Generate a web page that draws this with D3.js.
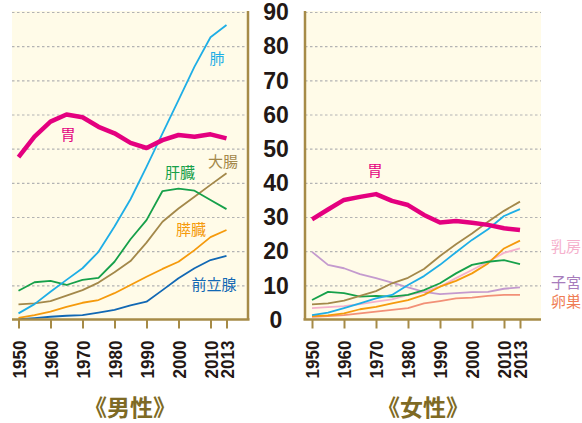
<!DOCTYPE html>
<html>
<head>
<meta charset="utf-8">
<script src="https://cdn.jsdelivr.net/npm/d3@7"></script>
<style>
  body { margin: 0; background: #fff; }
  svg text { font-family: "Liberation Sans", Arial, sans-serif; }
  .jp { font-family: "Noto Sans CJK JP", sans-serif; }
</style>
</head>
<body>
<svg id="chart" width="582" height="423"></svg>
<script>
// categories (x positions are equally spaced, 2013 follows 2010)
const years = [1950, 1955, 1960, 1965, 1970, 1975, 1980, 1985, 1990, 1995, 2000, 2005, 2010, 2013];
const tickYears = [1950, 1960, 1970, 1980, 1990, 2000, 2010, 2013];
const yTicks = [0, 10, 20, 30, 40, 50, 60, 70, 80, 90];

// male series
const maleStomach    = [47.5, 53.5, 57.9, 60.0, 59.2, 56.4, 54.5, 51.7, 50.2, 52.5, 54.0, 53.5, 54.2, 53.0];
const maleLung       = [1.8, 4.5, 8.1, 11.6, 15.0, 19.8, 27.2, 35.2, 44.7, 54.5, 64.2, 74.0, 82.6, 86.2];
const maleLiver      = [8.4, 10.9, 11.3, 10.1, 11.6, 12.2, 16.9, 23.5, 29.1, 37.6, 38.3, 37.7, 35.0, 32.3];
const maleColon      = [4.4, 4.7, 5.4, 7.0, 8.6, 10.8, 13.8, 17.1, 22.5, 28.6, 32.5, 35.9, 39.4, 42.8];
const malePancreas   = [0.5, 1.3, 2.3, 3.7, 4.9, 5.7, 7.7, 10.1, 12.5, 14.8, 16.9, 20.3, 24.1, 26.2];
const maleProstate   = [0.1, 0.4, 0.8, 1.1, 1.3, 2.0, 2.8, 4.1, 5.2, 8.6, 12.1, 15.0, 17.4, 18.6];

// female series
const femStomach     = [29.3, 32.2, 35.0, 35.9, 36.7, 34.7, 33.5, 30.6, 28.4, 28.8, 28.3, 27.7, 26.7, 26.2];
const femColon       = [4.4, 4.7, 5.5, 6.9, 8.3, 10.6, 12.2, 14.8, 18.6, 22.0, 25.2, 28.6, 31.8, 34.5];
const femLung        = [1.3, 2.0, 3.3, 4.7, 6.2, 7.2, 10.1, 12.7, 16.0, 19.7, 23.3, 26.4, 30.3, 32.3];
const femLiver       = [5.7, 8.1, 7.7, 6.7, 6.9, 6.7, 7.2, 8.6, 10.6, 13.5, 16.0, 16.9, 17.4, 16.2];
const femBreast      = [3.3, 3.6, 3.9, 4.5, 5.2, 5.9, 7.2, 8.1, 9.6, 12.1, 14.5, 16.9, 19.5, 20.8];
const femUterus      = [19.8, 16.0, 15.0, 13.3, 12.1, 10.8, 9.4, 8.1, 7.4, 7.7, 8.0, 8.1, 9.0, 9.4];
const femPancreas    = [1.0, 1.2, 1.8, 3.0, 3.7, 4.7, 5.7, 7.2, 9.6, 11.3, 13.5, 16.4, 20.8, 23.1];
const femOvary       = [0.8, 1.0, 1.3, 1.8, 2.3, 2.8, 3.3, 4.7, 5.4, 6.2, 6.4, 6.9, 7.2, 7.2];

const C = {
  stomach: "#e4007f", lung: "#1eaee6", liver: "#16a04a", colon: "#a3884a",
  pancreas: "#f59a0c", prostate: "#1168b4", breast: "#f5b0cc", uterus: "#c49ace",
  ovary: "#f29077", axis: "#a68b47", grid: "#b3b3b3", cream: "#fffbe8", title: "#7e6a24"
};

const svg = d3.select("#chart");
const y = d3.scaleLinear().domain([0, 90]).range([319.5, 12]);

const panels = [
  {
    x0: 12, x1: 248, px0: 18.5, px1: 226.5, border: 248, axis: [12, 249.5], title: "《男性》", titleX: 130,
    series: [
      { v: maleProstate, c: C.prostate, w: 1.8 },
      { v: malePancreas, c: C.pancreas, w: 1.8 },
      { v: maleColon, c: C.colon, w: 1.8 },
      { v: maleLiver, c: C.liver, w: 1.8 },
      { v: maleLung, c: C.lung, w: 1.8 },
      { v: maleStomach, c: C.stomach, w: 4.5 }
    ],
    labels: [
      { t: "肺", x: 217, y: 59, c: C.lung },
      { t: "胃", x: 68, y: 135, c: C.stomach },
      { t: "大腸", x: 223, y: 162, c: C.colon },
      { t: "肝臓", x: 180, y: 173, c: C.liver },
      { t: "膵臓", x: 191, y: 230, c: C.pancreas },
      { t: "前立腺", x: 214, y: 285, c: C.prostate }
    ]
  },
  {
    x0: 305, x1: 541, px0: 312, px1: 520, border: 305, axis: [303.5, 541], title: "《女性》", titleX: 423,
    series: [
      { v: femOvary, c: C.ovary, w: 1.8 },
      { v: femUterus, c: C.uterus, w: 1.8 },
      { v: femBreast, c: C.breast, w: 1.8 },
      { v: femPancreas, c: C.pancreas, w: 1.8 },
      { v: femLiver, c: C.liver, w: 1.8 },
      { v: femLung, c: C.lung, w: 1.8 },
      { v: femColon, c: C.colon, w: 1.8 },
      { v: femStomach, c: C.stomach, w: 4.5 }
    ],
    labels: [
      { t: "胃", x: 375, y: 171, c: C.stomach },
      { t: "乳房", x: 566, y: 247, c: C.breast },
      { t: "子宮", x: 566, y: 283, c: "#a77cbc" },
      { t: "卵巣", x: 566, y: 302, c: "#ef7d55" }
    ]
  }
];

panels.forEach(p => {
  const x = d3.scalePoint().domain(years).range([p.px0, p.px1]);
  const g = svg.append("g");

  // cream plot background
  g.append("rect")
    .attr("x", p.x0).attr("y", 11)
    .attr("width", p.x1 - p.x0).attr("height", y(0) - 11)
    .attr("fill", C.cream);

  // dashed gridlines
  g.append("g")
    .attr("transform", `translate(${p.x0},0)`)
    .call(d3.axisRight(y).tickValues(yTicks.slice(1)).tickSize(p.x1 - p.x0).tickFormat(""))
    .call(a => a.select(".domain").remove())
    .call(a => a.selectAll("line")
      .attr("stroke", C.grid).attr("stroke-width", 1.2).attr("stroke-dasharray", "2.5,2.5"));

  // data lines
  const line = d3.line().x((d, i) => x(years[i])).y(d => y(d));
  p.series.forEach(s => {
    g.append("path").datum(s.v)
      .attr("d", line)
      .attr("fill", "none")
      .attr("stroke", s.c)
      .attr("stroke-width", s.w)
      .attr("stroke-linejoin", "round");
  });

  // vertical border
  g.append("line")
    .attr("x1", p.border).attr("x2", p.border)
    .attr("y1", 11).attr("y2", y(0))
    .attr("stroke", C.axis).attr("stroke-width", 2.5);

  // bottom axis
  const xa = g.append("g")
    .attr("transform", `translate(0,${y(0)})`)
    .call(d3.axisBottom(x).tickValues(tickYears).tickSize(9).tickSizeOuter(0));
  xa.select(".domain").remove();
  xa.append("line")
    .attr("x1", p.axis[0]).attr("x2", p.axis[1])
    .attr("stroke", C.axis).attr("stroke-width", 2.5);
  xa.selectAll(".tick line").attr("stroke", C.axis).attr("stroke-width", 2);
  xa.selectAll(".tick text")
    .attr("transform", "rotate(-90)")
    .attr("x", -21).attr("y", 0).attr("dy", "0.36em")
    .attr("text-anchor", "end")
    .attr("fill", "#231815")
    .attr("font-size", 19).attr("font-weight", "bold")
    .attr("textLength", 38).attr("lengthAdjust", "spacingAndGlyphs");

  // series labels
  g.selectAll(".lab").data(p.labels).join("text")
    .attr("class", "jp")
    .attr("x", d => d.x).attr("y", d => d.y)
    .attr("dy", "0.36em")
    .attr("text-anchor", "middle")
    .attr("font-size", 15)
    .attr("fill", d => d.c)
    .text(d => d.t);

  // panel title
  g.append("text")
    .attr("class", "jp")
    .attr("x", p.titleX).attr("y", 408)
    .attr("dy", "0.36em")
    .attr("text-anchor", "middle")
    .attr("font-size", 23).attr("font-weight", "bold")
    .attr("fill", C.title)
    .text(p.title);
});

// shared y labels in the middle
svg.append("g").selectAll("text").data(yTicks).join("text")
  .attr("x", 276).attr("y", d => y(d))
  .attr("dy", "0.36em")
  .attr("text-anchor", "middle")
  .attr("font-size", 23).attr("font-weight", "bold")
  .attr("fill", "#231815")
  .text(d => d);
</script>
</body>
</html>
